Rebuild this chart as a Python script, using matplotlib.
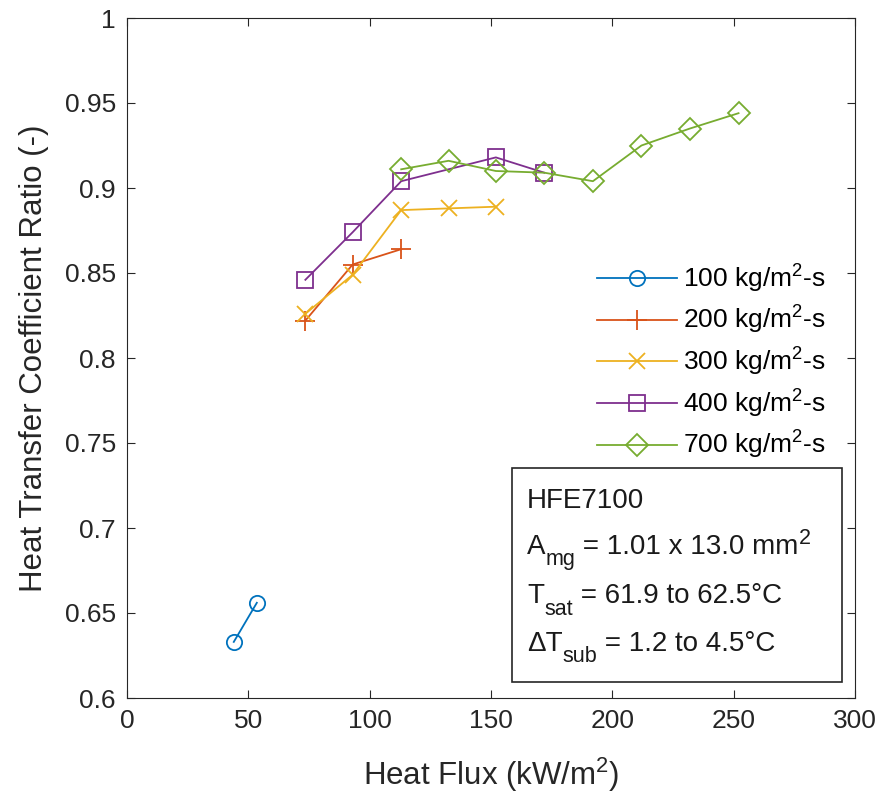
import matplotlib
matplotlib.use('Agg')
import matplotlib.pyplot as plt
from matplotlib.patches import Rectangle

plt.rcParams['font.family'] = ['Liberation Sans', 'DejaVu Sans']
plt.rcParams['mathtext.fontset'] = 'custom'
plt.rcParams['mathtext.rm'] = 'Liberation Sans'
plt.rcParams['mathtext.it'] = 'Liberation Sans'
plt.rcParams['mathtext.default'] = 'regular'

# data
q100 = [44, 53.5]
h100 = [0.633, 0.656]
q200 = [73.5, 93, 113]
h200 = [0.822, 0.855, 0.864]
q300 = [73.5, 93, 113, 132.5, 152]
h300 = [0.826, 0.849, 0.887, 0.888, 0.889]
q400 = [73.5, 93, 113, 152, 172]
h400 = [0.846, 0.874, 0.904, 0.918, 0.909]
q700 = [113, 132.5, 152, 172, 192, 212, 232, 252]
h700 = [0.911, 0.916, 0.910, 0.909, 0.904, 0.925, 0.935, 0.944]

labels = ['100 kg/m$^2$-s', '200 kg/m$^2$-s', '300 kg/m$^2$-s',
          '400 kg/m$^2$-s', '700 kg/m$^2$-s']
colors = ['#0072BD', '#D95319', '#EDB120', '#7E2F8E', '#77AC30']
markers = ['o', '+', 'x', 's', 'D']
msizes = [11, 14, 12, 11, 11]

W, H = 893, 796
fig = plt.figure(figsize=(W / 100, H / 100), dpi=100)
ax = fig.add_axes([127 / W, 98 / H, 728 / W, 680 / H])

series = [(q100, h100), (q200, h200), (q300, h300), (q400, h400), (q700, h700)]
for (x, y), lab, c, m, s in zip(series, labels, colors, markers, msizes):
    ax.plot(x, y, marker=m, color=c, label=lab, ms=s, lw=1.3,
            mfc='none', mew=1.3)

ax.set_xlim(0, 300)
ax.set_ylim(0.6, 1.0)
ax.set_xticks([0, 50, 100, 150, 200, 250, 300])
ax.set_yticks([0.6, 0.65, 0.7, 0.75, 0.8, 0.85, 0.9, 0.95, 1.0])
ax.set_yticklabels(['0.6', '0.65', '0.7', '0.75', '0.8', '0.85', '0.9', '0.95', '1'])
ax.tick_params(direction='in', top=True, right=True, labelsize=19,
               colors='#262626', length=6, pad=8)
for sp in ax.spines.values():
    sp.set_color('#262626')
ax.set_xlabel('Heat Flux (kW/m$^2$)', fontsize=22.5, color='#262626', labelpad=16)
ax.set_ylabel('Heat Transfer Coefficient Ratio (-)', fontsize=22.5,
              color='#262626', labelpad=11)

ax.legend(loc='upper left', bbox_to_anchor=(0.628, 0.66), frameon=False,
          fontsize=19, handlelength=3.0, handletextpad=0.25,
          labelspacing=0.36, borderpad=0)

# info box, drawn in figure pixels
fig.add_artist(Rectangle((512 / W, 1 - 682 / H), 330 / W, 214 / H,
                         transform=fig.transFigure, fc='white',
                         ec='#262626', lw=1.2))
renderer = fig.canvas.get_renderer()


def run(x, y, parts):
    # parts: (text, size, shift down in px)
    for s, size, dy in parts:
        t = fig.text(x / W, 1 - (y + dy) / H, s, fontsize=size,
                     va='baseline', ha='left', color='#1a1a1a')
        x = t.get_window_extent(renderer).x1


run(527, 508, [('HFE7100', 20, 0)])
run(527, 554, [('A', 20, 0), ('mg', 15.5, 11), (' = 1.01 x 13.0 mm', 20, 0),
               ('2', 15.5, -10)])
run(527, 603, [('T', 20, 0), ('sat', 15.5, 12), (' = 61.9 to 62.5°C', 20, 0)])
run(527, 651, [('ΔT', 20, 0), ('sub', 15.5, 11), (' = 1.2 to 4.5°C', 20, 0)])

fig.savefig('out.png', dpi=100)
